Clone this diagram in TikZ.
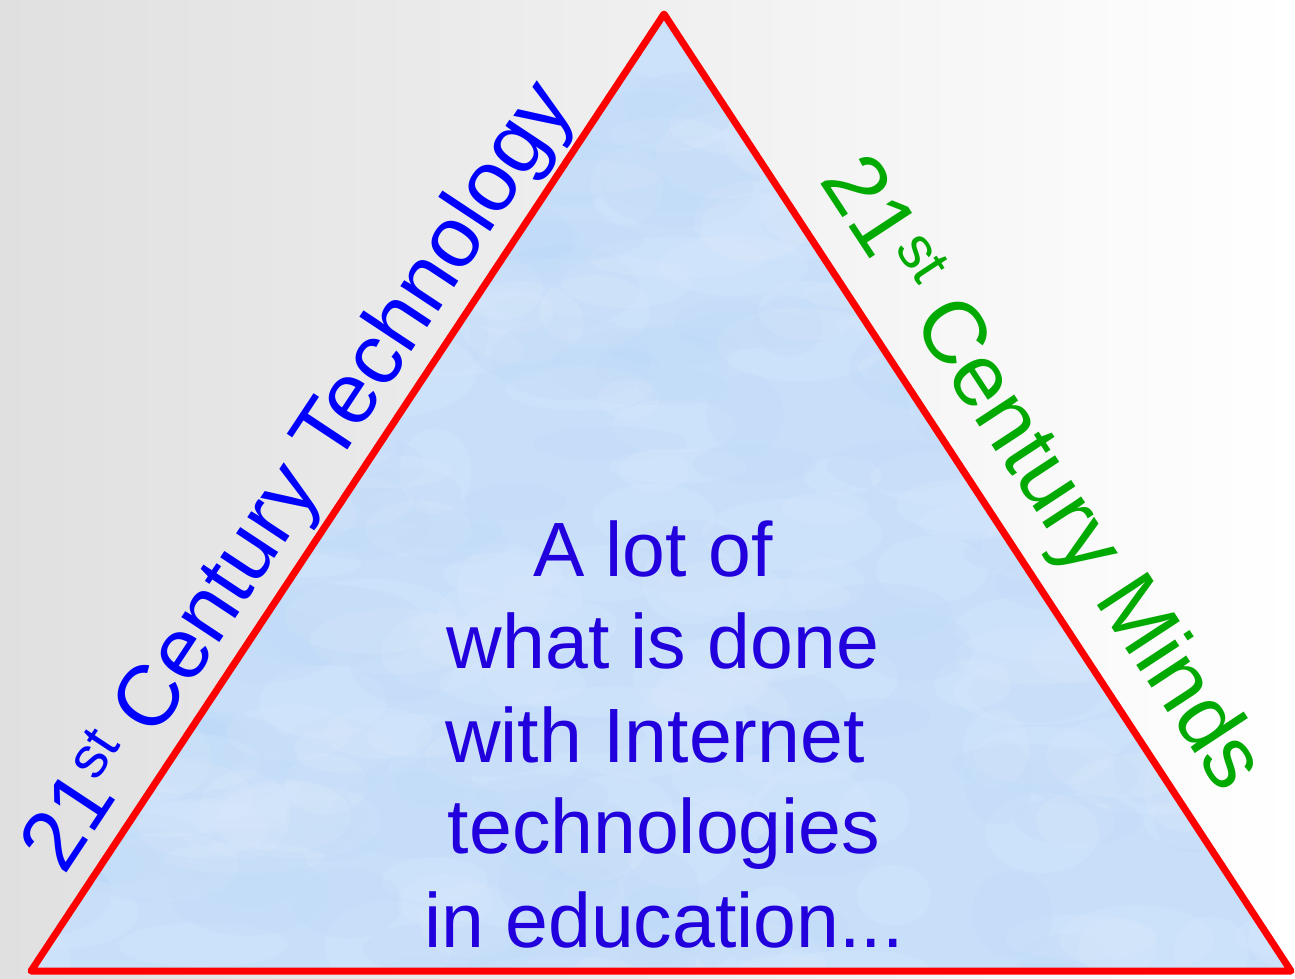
\documentclass[tikz,border=0pt]{standalone}
\usepackage{fontspec}
\setmainfont{Liberation Sans}
\definecolor{bgL}{RGB}{224,224,224}
\definecolor{skyblue}{RGB}{200,223,250}
\definecolor{cloud}{RGB}{230,240,253}
\definecolor{deepsky}{RGB}{182,213,248}
\definecolor{txtblue}{RGB}{34,0,221}
\definecolor{edgeblue}{RGB}{0,0,255}
\definecolor{mindgreen}{RGB}{0,170,0}
\begin{document}
\begin{tikzpicture}[x=1pt,y=-1pt,
  bodyline/.style={text=txtblue,font=\fontsize{77}{90}\selectfont,anchor=base,inner sep=0pt},
  sidelabel/.style={anchor=base,inner sep=0pt},
  rededge/.style={draw=red,line width=7pt,line join=round}]
\useasboundingbox (0,0) rectangle (1295,978);
\shade[left color=bgL,right color=white] (0,0) rectangle (1295,978);
\coordinate (apex) at (664,14);
\coordinate (bl) at (31,971);
\coordinate (br) at (1291,971);
\fill[skyblue] (apex)--(bl)--(br)--cycle;
\begin{scope}
  \clip (apex)--(bl)--(br)--cycle;
  \pgfmathsetseed{7}
  \foreach \i in {1,...,160}{
    \pgfmathsetmacro\cx{rnd*1295}
    \pgfmathsetmacro\cy{rnd*978}
    \pgfmathsetmacro\rx{30+rnd*60}
    \pgfmathsetmacro\ry{15+rnd*30}
    \fill[deepsky,opacity=0.12] (\cx,\cy) ellipse[x radius=\rx pt,y radius=\ry pt];
  }
  \foreach \i in {1,...,200}{
    \pgfmathsetmacro\cx{rnd*1295}
    \pgfmathsetmacro\cy{rnd*978}
    \pgfmathsetmacro\rx{30+rnd*60}
    \pgfmathsetmacro\ry{15+rnd*30}
    \fill[cloud,opacity=0.14] (\cx,\cy) ellipse[x radius=\rx pt,y radius=\ry pt];
  }
\end{scope}
\draw[rededge] (apex)--(bl)--(br)--cycle;
\node[sidelabel,text=edgeblue,font=\fontsize{86}{100}\selectfont,rotate=56.52] (tech) at (320,490.7)
  {21\raisebox{0.3em}{\fontsize{58}{60}\selectfont st} Century Technology};
\node[sidelabel,text=mindgreen,font=\fontsize{88}{100}\selectfont,rotate=-56.74] (minds) at (1020.5,488.2)
  {21\raisebox{0.3em}{\fontsize{59}{60}\selectfont st} Century Minds};
\node[bodyline] (l1) at (653,576) {A lot of};
\node[bodyline] (l2) at (663,668) {what is done};
\node[bodyline] (l3) at (655,762) {with Internet};
\node[bodyline] (l4) at (664,853) {technologies};
\node[bodyline] (l5) at (664,947) {in education...};
\end{tikzpicture}
\end{document}
